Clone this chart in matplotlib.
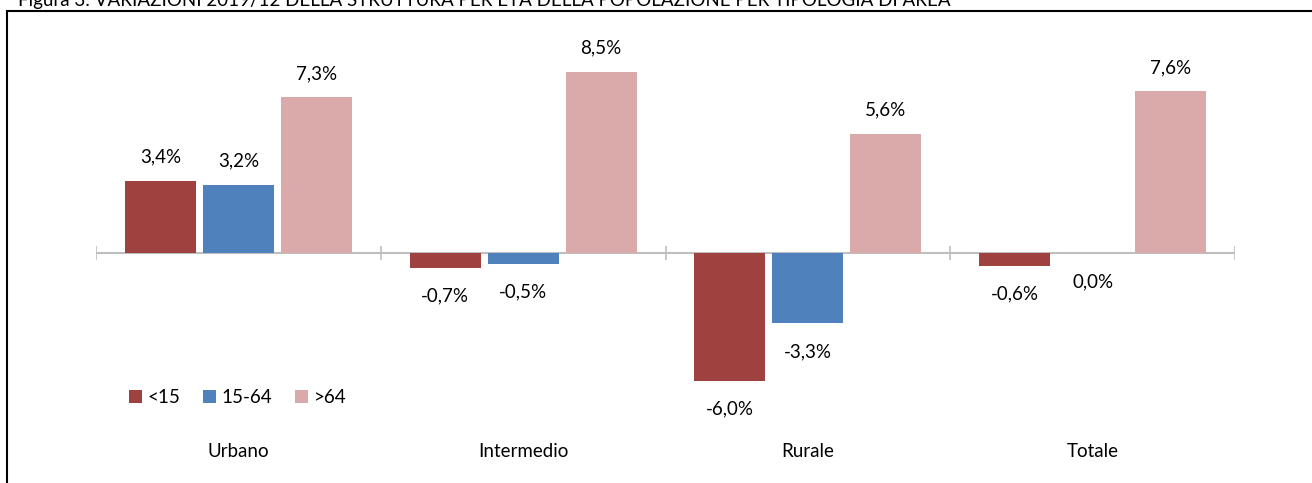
import matplotlib
matplotlib.use('Agg')
import matplotlib.pyplot as plt
import matplotlib.patches as patches
import numpy as np

plt.rcParams['font.family'] = ['Lato', 'DejaVu Sans']

categories = ['Urbano', 'Intermedio', 'Rurale', 'Totale']
series = ['<15', '15-64', '>64']
under15 = [3.4, -0.7, -6.0, -0.6]
age15_64 = [3.2, -0.5, -3.3, 0.0]
over64 = [7.3, 8.5, 5.6, 7.6]
values = [under15, age15_64, over64]
colors = ['#9E413F', '#4F81BD', '#DAAAAA']
title = 'Figura 3: VARIAZIONI 2019/12 DELLA STRUTTURA PER ETÀ DELLA POPOLAZIONE PER TIPOLOGIA DI AREA'

W, H = 1312, 483
fs = 13.5
fig = plt.figure(figsize=(W / 100, H / 100), dpi=100)
ax = fig.add_axes([96 / W, 13 / H, (1235 - 96) / W, 445 / H])

x = np.arange(len(categories))
width = 0.25
offset = 0.274
handles = []
for i, (vals, col) in enumerate(zip(values, colors)):
    pos = x + (i - 1) * offset
    b = ax.bar(pos, vals, width, color=col, label=series[i], zorder=2)
    handles.append(b)
    for px, v in zip(pos, vals):
        lab = '{:.1f}%'.format(v).replace('.', ',')
        if v > 0:
            ax.annotate(lab, (px, v), xytext=(0, 17), textcoords='offset points',
                        ha='center', va='center', fontsize=fs)
        else:
            ax.annotate(lab, (px, v), xytext=(0, -20.5), textcoords='offset points',
                        ha='center', va='center', fontsize=fs)

ax.set_xlim(-0.5, 3.5)
ax.set_ylim(-10.19, 10.7)
ax.axis('off')

# zero axis with category tick marks
ax.axhline(0, color='#BFBFBF', lw=1.5, zorder=1)
ax.vlines(np.arange(-0.5, 4.0, 1.0), -0.33, 0.33, color='#BFBFBF', lw=1.2, zorder=1)

for xi, c in zip(x, categories):
    ax.text(xi, -9.3, c, ha='center', va='center', fontsize=fs)

leg = ax.legend(handles=handles, labels=series, loc='center left',
                bbox_to_anchor=(0.014, 0.162), ncol=3, frameon=False,
                fontsize=fs, handlelength=0.7, handleheight=0.7,
                handletextpad=0.3, columnspacing=1.2)

# outer frame (runs off the right and bottom edges)
fig.patches.append(patches.Rectangle((7 / W, -0.1), 2, 1.1 - 11 / H,
                                     transform=fig.transFigure, fill=False,
                                     edgecolor='black', lw=1.5))
fig.text(18 / W, 1 - 6 / H, title, ha='left', va='baseline', fontsize=fs)

fig.savefig('out.png', dpi=100)
